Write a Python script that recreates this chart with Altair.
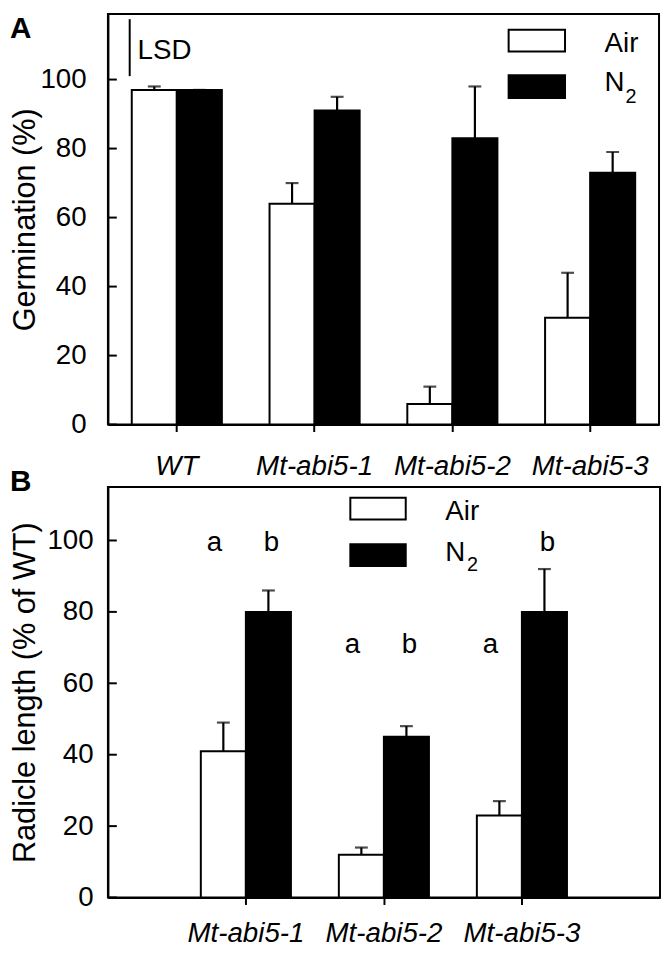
import altair as alt
import pandas as pd

FONT = "Liberation Sans"

# ---------------- data ----------------
genotypes_a = ["WT", "Mt-abi5-1", "Mt-abi5-2", "Mt-abi5-3"]
conditions = ["Air", "N2"]
germ_air = [97, 64, 6, 31]
germ_air_err = [1, 6, 5, 13]
germ_n2 = [97, 91, 83, 73]
germ_n2_err = [0, 4, 15, 6]

genotypes_b = ["Mt-abi5-1", "Mt-abi5-2", "Mt-abi5-3"]
rad_air = [41, 12, 23]
rad_air_err = [8, 2, 4]
rad_n2 = [80, 45, 80]
rad_n2_err = [6, 3, 12]
letters_air = ["a", "a", "a"]
letters_n2 = ["b", "b", "b"]
letter_y_air = [97, 68.5, 68.5]
letter_y_n2 = [97, 68.5, 97]

y_ticks = [0, 20, 40, 60, 80, 100]
lsd_base = 101
lsd_value = 16.5
lsd_label_y = 106


def make_df(genos, air, air_err, n2, n2_err):
    rows = []
    for g, v, e in zip(genos, air, air_err):
        rows.append({"genotype": g, "cond": "Air", "value": v, "top": v + e})
    for g, v, e in zip(genos, n2, n2_err):
        rows.append({"genotype": g, "cond": "N2", "value": v, "top": v + e})
    return pd.DataFrame(rows)


dfA = make_df(genotypes_a, germ_air, germ_air_err, germ_n2, germ_n2_err)
dfB = make_df(genotypes_b, rad_air, rad_air_err, rad_n2, rad_n2_err)
df_ticks = pd.DataFrame({"value": y_ticks})
one = pd.DataFrame({"k": [0]})

W_A, W_B, H = 557, 558, 415


def y_axis(title, pad, fs, h):
    return alt.Axis(values=y_ticks, title=title, ticks=False, grid=False,
                    domainColor="black", domainWidth=2,
                    labelFont=FONT, labelFontSize=fs, labelColor="black",
                    labelPadding=pad, labelOverlap=False,
                    titleFont=FONT, titleFontSize=31, titleFontWeight="normal",
                    titleColor="black", titleX=-83, titleY=h / 2, titleAngle=-90,
                    titleAlign="center", titleBaseline="middle")


def x_axis(pad):
    return alt.Axis(title=None, labelAngle=0, labelFont=FONT, labelFontSize=28,
                    labelFontStyle="italic", labelColor="black", labelPadding=pad,
                    tickSize=7, tickWidth=2, tickColor="black",
                    domainColor="black", domainWidth=2)


def panel(df, genos, ydomain, ytitle, ylabpad, xlabpad, pin, pout, yfs):
    yscale = alt.Scale(domain=ydomain, nice=False, zero=True)
    yax = y_axis(ytitle, ylabpad, yfs, H)
    X = alt.X("genotype:N", sort=genos, axis=x_axis(xlabpad),
              scale=alt.Scale(paddingInner=pin, paddingOuter=pout))
    XO = alt.XOffset("cond:N", sort=conditions,
                     scale=alt.Scale(paddingInner=0, paddingOuter=0))
    base = alt.Chart(df)
    bars = base.mark_bar(stroke="black", strokeWidth=2).encode(
        x=X, xOffset=XO,
        y=alt.Y("value:Q", scale=yscale, axis=yax),
        fill=alt.Fill("cond:N", scale=alt.Scale(domain=conditions, range=["white", "black"]),
                      legend=None),
    )
    err = base.mark_rule(color="black", strokeWidth=2.2).encode(
        x=X, xOffset=XO,
        y=alt.Y("value:Q", scale=yscale, axis=yax), y2="top:Q")
    cap = base.mark_tick(color="black", orient="horizontal", size=13, thickness=2.2).encode(
        x=X, xOffset=XO, y=alt.Y("top:Q", scale=yscale, axis=yax))
    ticks = alt.Chart(df_ticks).mark_rule(color="black", strokeWidth=2).encode(
        y=alt.Y("value:Q", scale=yscale, axis=yax),
        x=alt.value(0), x2=alt.value(9))
    return [bars, err, cap, ticks], yscale, yax, X, XO


def legend_layers(bx0, bx1, by, tx, ty, sub_x, sub_y):
    layers = []
    for (y0, y1), fill in zip(by, ["white", "black"]):
        layers.append(alt.Chart(one).mark_rect(stroke="black", strokeWidth=2, fill=fill).encode(
            x=alt.value(bx0), x2=alt.value(bx1), y=alt.value(y0), y2=alt.value(y1)))
    layers.append(alt.Chart(one).mark_text(font=FONT, fontSize=28, align="left",
                                           baseline="alphabetic", color="black").encode(
        text=alt.value("Air"), x=alt.value(tx), y=alt.value(ty[0])))
    layers.append(alt.Chart(one).mark_text(font=FONT, fontSize=28, align="left",
                                           baseline="alphabetic", color="black").encode(
        text=alt.value("N"), x=alt.value(tx), y=alt.value(ty[1])))
    layers.append(alt.Chart(one).mark_text(font=FONT, fontSize=20, align="left",
                                           baseline="alphabetic", color="black").encode(
        text=alt.value("2"), x=alt.value(sub_x), y=alt.value(sub_y)))
    return layers


def panel_label(txt, y, baseline):
    return alt.Chart(one).mark_text(font=FONT, fontSize=30, fontWeight="bold", align="left",
                                    baseline=baseline, color="black").encode(
        text=alt.value(txt), x=alt.value(-99), y=alt.value(y))


# ---------------- Panel A ----------------
layersA, ysA, yaxA, XA, XOA = panel(dfA, genotypes_a, [0, 119], "Germination (%)", 22, 21,
                                    0.346, 0.173, 28)
df_lsd = pd.DataFrame({"base": [lsd_base], "top": [lsd_base + lsd_value], "ty": [lsd_label_y]})
lsd_rule = alt.Chart(df_lsd).mark_rule(color="black", strokeWidth=2).encode(
    y=alt.Y("base:Q", scale=ysA, axis=yaxA), y2="top:Q", x=alt.value(22))
lsd_text = alt.Chart(df_lsd).mark_text(font=FONT, fontSize=28, align="left",
                                       baseline="alphabetic", color="black").encode(
    y=alt.Y("ty:Q", scale=ysA, axis=yaxA), x=alt.value(30), text=alt.value("LSD"))

chartA = alt.layer(
    *layersA, lsd_rule, lsd_text,
    *legend_layers(405, 462, [(16, 38), (62, 85)], 502, (38, 78), 523, 90),
    panel_label("A", 0, "top"),
).properties(width=W_A, height=H)

# ---------------- Panel B ----------------
layersB, ysB, yaxB, XB, XOB = panel(dfB, genotypes_b, [0, 115], "Radicle length (% of WT)", 15, 15,
                                    0.346, 0.673, 28)
df_let = pd.DataFrame({
    "genotype": genotypes_b * 2,
    "cond": ["Air"] * 3 + ["N2"] * 3,
    "letter": letters_air + letters_n2,
    "ly": letter_y_air + letter_y_n2,
})
let_air = alt.Chart(df_let[df_let.cond == "Air"]).mark_text(
    font=FONT, fontSize=28, baseline="alphabetic", align="center", dx=-9, color="black").encode(
    x=XB, xOffset=XOB, y=alt.Y("ly:Q", scale=ysB, axis=yaxB), text="letter:N")
let_n2 = alt.Chart(df_let[df_let.cond == "N2"]).mark_text(
    font=FONT, fontSize=28, baseline="alphabetic", align="center", dx=3, color="black").encode(
    x=XB, xOffset=XOB, y=alt.Y("ly:Q", scale=ysB, axis=yaxB), text="letter:N")

chartB = alt.layer(
    *layersB, let_air, let_n2,
    *legend_layers(245, 301, [(11, 33), (58, 80)], 341, (33, 75), 363, 85),
    panel_label("B", 4, "alphabetic"),
).properties(width=W_B, height=H)

chart = alt.vconcat(chartA, chartB, spacing=63, bounds="flush").properties(
    padding=0
).configure(font=FONT).configure_view(stroke="black", strokeWidth=2)

chart.save("out.html", embed_options={"renderer": "svg", "actions": False})
